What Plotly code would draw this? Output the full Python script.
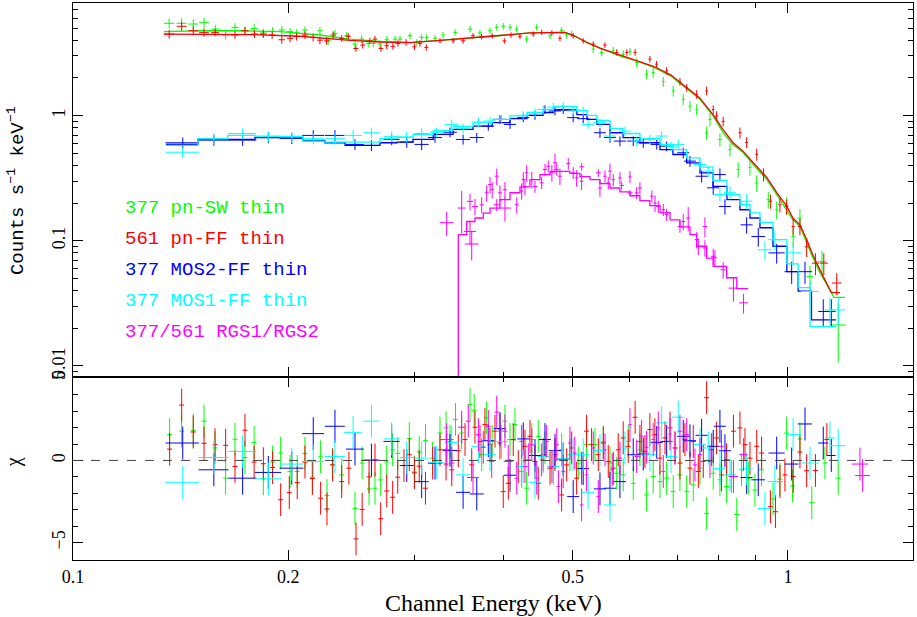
import plotly.graph_objects as go
from plotly.subplots import make_subplots

# ---------------------------------------------------------------
# 377 pn-SW thin  (green)
# ---------------------------------------------------------------
pnsw_e = [0.1363, 0.1419, 0.1473, 0.1525, 0.1583, 0.1635, 0.1685, 0.1740, 0.1792, 0.1846,
          0.1902, 0.1959, 0.2012, 0.2055, 0.2111, 0.2215, 0.2275, 0.2325, 0.2415, 0.2480,
          0.2534, 0.2588, 0.2630, 0.2688, 0.2747, 0.2822, 0.2867, 0.2961, 0.3026, 0.3074,
          0.3124, 0.3209, 0.3293, 0.3423, 0.3592, 0.3709, 0.3831, 0.3915, 0.3998, 0.4086,
          0.4176, 0.4311, 0.4453, 0.4648, 0.4825, 0.4904, 0.4984, 0.5342, 0.5489, 0.5698,
          0.5884, 0.6013, 0.6145, 0.6344, 0.6480, 0.6694, 0.6912, 0.7139, 0.7295, 0.7455,
          0.7697, 0.7780, 0.8034, 0.8298, 0.8519, 0.8850, 0.9045, 0.9388, 0.9646, 0.9960,
          1.0170, 1.0396, 1.0737, 1.1160, 1.1760]
pnsw_rate = [5.47, 5.47, 5.40, 5.57, 4.92, 4.41, 5.08, 4.77, 4.98, 4.58,
             4.72, 4.84, 4.69, 4.58, 4.84, 4.77, 3.96, 4.55, 4.35, 3.73,
             4.09, 3.78, 3.78, 3.73, 4.04, 4.09, 4.09, 4.35, 3.85, 4.22,
             4.22, 4.15, 4.41, 4.63, 4.92, 4.58, 4.77, 5.08, 5.18, 5.08,
             4.92, 4.09, 5.08, 4.35, 4.80, 4.41, 4.49, 3.40, 3.20, 3.30,
             3.10, 3.24, 2.66, 2.14, 2.21, 1.87, 1.58, 1.35, 1.19, 1.12,
             0.730, 0.934, 0.645, 0.536, 0.371, 0.385, 0.290, 0.213, 0.177, 0.191,
             0.108, 0.152, 0.0516, 0.0679, 0.0212]
pnsw_rel = [0.09, 0.09, 0.09, 0.09, 0.08, 0.08, 0.08, 0.08, 0.08, 0.08,
            0.08, 0.08, 0.07, 0.07, 0.07, 0.07, 0.07, 0.07, 0.07, 0.07,
            0.07, 0.07, 0.07, 0.07, 0.07, 0.06, 0.06, 0.06, 0.06, 0.06,
            0.06, 0.06, 0.06, 0.06, 0.06, 0.06, 0.06, 0.06, 0.06, 0.06,
            0.06, 0.06, 0.06, 0.06, 0.06, 0.06, 0.06, 0.07, 0.07, 0.07,
            0.07, 0.07, 0.08, 0.09, 0.09, 0.09, 0.10, 0.10, 0.10, 0.10,
            0.12, 0.12, 0.12, 0.12, 0.14, 0.14, 0.15, 0.15, 0.16, 0.16,
            0.18, 0.18, 0.22, 0.22, 0.50]
pnsw_de = [0.0023, 0.0023, 0.0024, 0.0024, 0.002, 0.002, 0.002, 0.002, 0.002, 0.002,
           0.002, 0.002, 0.002, 0.002, 0.002, 0.002, 0.002, 0.002, 0.002, 0.002,
           0.002, 0.002, 0.002, 0.002, 0.002, 0.002, 0.002, 0.002, 0.002, 0.002,
           0.002, 0.002, 0.002, 0.002, 0.0025, 0.0025, 0.0025, 0.0025, 0.0025, 0.0025,
           0.0025, 0.0025, 0.0025, 0.0025, 0.003, 0.003, 0.003, 0.003, 0.003, 0.003,
           0.003, 0.003, 0.003, 0.003, 0.003, 0.003, 0.003, 0.003, 0.003, 0.003,
           0.004, 0.004, 0.004, 0.004, 0.004, 0.004, 0.005, 0.005, 0.005, 0.006,
           0.006, 0.008, 0.012, 0.015, 0.030]
pnsw_model_e = [0.134, 0.1505, 0.1712, 0.1948, 0.2215, 0.2441, 0.2688, 0.2961, 0.3261, 0.3592,
                0.3956, 0.4357, 0.4723, 0.4877, 0.5034, 0.522, 0.5459, 0.5822, 0.6209, 0.6496,
                0.6864, 0.7219, 0.7533, 0.7856, 0.8112, 0.8375, 0.8652, 0.899, 0.9346, 0.9648,
                0.9966, 1.0163, 1.0396, 1.0628, 1.0835, 1.1087, 1.134, 1.160, 1.2019]
pnsw_model = [4.69, 4.77, 4.77, 4.69, 4.41, 4.09, 3.92, 3.84, 3.99, 4.15,
              4.37, 4.58, 4.66, 4.63, 4.33, 3.85, 3.46, 3.00, 2.68, 2.43,
              2.07, 1.63, 1.35, 1.00, 0.735, 0.589, 0.51, 0.393, 0.308, 0.234,
              0.177, 0.147, 0.130, 0.096, 0.0734, 0.0555, 0.0440, 0.0353, 0.0353]
pnsw_res_e = [0.1365, 0.1419, 0.1473, 0.1525, 0.158, 0.1635, 0.1685, 0.174, 0.1792, 0.1846,
              0.1902, 0.1952, 0.2012, 0.2059, 0.2111, 0.2162, 0.222, 0.2266, 0.2308, 0.2376,
              0.248, 0.2538, 0.2595, 0.2645, 0.2694, 0.2747, 0.28, 0.2846, 0.2954, 0.3003,
              0.305, 0.3112, 0.3185, 0.3261, 0.3325, 0.3368, 0.3428, 0.3497, 0.3592, 0.3641,
              0.373, 0.379, 0.3858, 0.3956, 0.402, 0.4086, 0.4152, 0.4242, 0.4311, 0.4383,
              0.4475, 0.4573, 0.4697, 0.4825, 0.4956, 0.5091, 0.5229, 0.5372, 0.5518, 0.5638,
              0.5762, 0.5884, 0.598, 0.6077, 0.6209, 0.6344, 0.648, 0.6623, 0.6767, 0.6912,
              0.7063, 0.7219, 0.7373, 0.7533, 0.7697, 0.7862, 0.8034, 0.8209, 0.8336, 0.8482,
              0.8613, 0.8803, 0.8994, 0.9188, 0.9532, 0.9747, 0.996, 1.0152, 1.0396, 1.08,
              1.1267, 1.176]
pnsw_res = [1.57, 1.78, 1.82, 2.39, 0.76, -1.08, 1.29, 0.18, 1.10, -1.12,
            -0.10, 0.45, -0.67, -0.67, 0.43, -1.02, 0.22, -2.14, -0.27, -0.88,
            -2.92, -0.16, -1.73, -1.69, -1.18, -0.10, 0.65, 0.43, 1.33, -0.71,
            0.51, 1.22, 0.14, 1.67, 1.98, 1.16, 2.49, 1.67, 3.41, 3.06,
            0.35, 2.59, 1.16, 1.78, 2.39, 1.27, 2.18, -0.67, -1.69, 1.27,
            1.47, 0.76, -0.47, 0.65, 0.35, -0.16, 0.96, 0.96, 1.12, -0.16,
            -0.78, -0.88, 1.16, -1.39, 0.65, -2.10, -0.98, -1.29, -1.08, -1.90,
            -0.88, -1.90, -1.49, -0.47, -3.22, -0.78, -1.18, -1.59, -0.98, -3.29,
            -0.57, -1.08, -1.80, -0.57, -2.35, -1.14, 1.67, -1.55, 1.31, -2.57,
            -0.16, -1.08]

# ---------------------------------------------------------------
# 561 pn-FF thin  (red)
# ---------------------------------------------------------------
pnff_e = [0.1363, 0.1419, 0.1473, 0.1525, 0.1580, 0.1685, 0.1740, 0.1794, 0.1846, 0.1899,
          0.1959, 0.2012, 0.2055, 0.2111, 0.2167, 0.2215, 0.2263, 0.2312, 0.2376, 0.2427,
          0.2487, 0.2543, 0.2602, 0.2645, 0.2696, 0.2747, 0.2802, 0.2848, 0.2924, 0.3003,
          0.3057, 0.3120, 0.3261, 0.3402, 0.3513, 0.3627, 0.3728, 0.3858, 0.4012, 0.4099,
          0.4219, 0.4403, 0.4525, 0.4676, 0.4799, 0.5008, 0.5172, 0.5342, 0.5548, 0.5762,
          0.5952, 0.6114, 0.6411, 0.6551, 0.6767, 0.7063, 0.7219, 0.7455, 0.7697, 0.7862,
          0.7948, 0.8119, 0.8569, 0.8755, 0.9045, 0.9246, 0.9453, 0.9747, 0.9960, 1.0170,
          1.0396, 1.0622, 1.0928, 1.1226, 1.1703]
pnff_rate = [4.49, 5.18, 4.77, 4.63, 4.63, 4.41, 4.77, 4.49, 4.49, 4.41,
             4.04, 4.15, 4.28, 4.41, 4.22, 4.01, 3.96, 4.41, 4.15, 4.31,
             3.44, 3.66, 3.96, 4.09, 3.44, 3.62, 3.58, 3.78, 3.85, 3.55,
             3.78, 3.51, 3.96, 3.96, 3.96, 4.35, 4.28, 4.35, 3.96, 4.41,
             4.31, 4.49, 4.63, 4.58, 4.15, 4.35, 3.96, 3.73, 3.66, 3.20,
             3.20, 3.20, 2.83, 2.58, 2.28, 1.87, 1.67, 1.48, 1.58, 1.12,
             0.995, 0.900, 0.730, 0.610, 0.490, 0.338, 0.207, 0.194, 0.188, 0.130,
             0.130, 0.0893, 0.0662, 0.0662, 0.0459]
pnff_rel = [0.08, 0.08, 0.08, 0.08, 0.07, 0.07, 0.07, 0.07, 0.07, 0.07,
            0.07, 0.07, 0.07, 0.07, 0.07, 0.07, 0.07, 0.07, 0.06, 0.06,
            0.06, 0.06, 0.06, 0.06, 0.06, 0.06, 0.06, 0.06, 0.06, 0.06,
            0.06, 0.06, 0.05, 0.05, 0.05, 0.05, 0.05, 0.05, 0.05, 0.05,
            0.05, 0.05, 0.05, 0.05, 0.05, 0.05, 0.05, 0.05, 0.05, 0.06,
            0.06, 0.06, 0.06, 0.06, 0.07, 0.07, 0.07, 0.08, 0.08, 0.08,
            0.09, 0.09, 0.10, 0.10, 0.11, 0.12, 0.13, 0.13, 0.14, 0.15,
            0.15, 0.17, 0.20, 0.20, 0.20]
pnff_de = [0.0023, 0.0023, 0.0024, 0.0024, 0.002, 0.002, 0.002, 0.002, 0.002, 0.002,
           0.002, 0.002, 0.002, 0.002, 0.002, 0.002, 0.002, 0.002, 0.002, 0.002,
           0.002, 0.002, 0.002, 0.002, 0.002, 0.002, 0.002, 0.002, 0.002, 0.002,
           0.002, 0.002, 0.002, 0.002, 0.0025, 0.0025, 0.0025, 0.0025, 0.0025, 0.0025,
           0.0025, 0.0025, 0.0025, 0.0025, 0.0025, 0.0025, 0.0025, 0.003, 0.003, 0.003,
           0.003, 0.003, 0.003, 0.003, 0.003, 0.003, 0.003, 0.003, 0.003, 0.003,
           0.004, 0.004, 0.004, 0.004, 0.004, 0.004, 0.005, 0.005, 0.005, 0.005,
           0.007, 0.007, 0.012, 0.015, 0.018]
pnff_model_e = [0.134, 0.1505, 0.1767, 0.2077, 0.2289, 0.2441, 0.2688, 0.2961, 0.3261, 0.3592,
                0.3956, 0.4357, 0.4723, 0.4877, 0.5034, 0.522, 0.5459, 0.5822, 0.6209, 0.6496,
                0.6864, 0.7219, 0.7533, 0.7856, 0.8112, 0.8375, 0.8652, 0.899, 0.9346, 0.9648,
                0.9966, 1.0163, 1.0396, 1.0628, 1.0835, 1.1087, 1.134, 1.1501, 1.1825]
pnff_model = [4.49, 4.49, 4.45, 4.31, 4.12, 3.99, 3.88, 3.84, 3.99, 4.15,
              4.37, 4.58, 4.66, 4.63, 4.33, 3.88, 3.46, 3.06, 2.73, 2.47,
              2.11, 1.66, 1.38, 1.02, 0.777, 0.61, 0.52, 0.407, 0.320, 0.243,
              0.188, 0.152, 0.134, 0.102, 0.0773, 0.0585, 0.0460, 0.0385, 0.0385]
pnff_res_e = [0.1365, 0.1419, 0.1473, 0.1525, 0.158, 0.1635, 0.1685, 0.174, 0.1792, 0.1846,
              0.1902, 0.1952, 0.2007, 0.2059, 0.2111, 0.2162, 0.222, 0.2266, 0.2308, 0.2376,
              0.2432, 0.2488, 0.2538, 0.2595, 0.2645, 0.2694, 0.2747, 0.28, 0.2846, 0.2904,
              0.2954, 0.3003, 0.305, 0.3112, 0.3185, 0.3261, 0.3325, 0.3387, 0.3459, 0.3535,
              0.3612, 0.365, 0.3709, 0.3769, 0.3831, 0.3893, 0.3956, 0.3998, 0.4063, 0.4129,
              0.4196, 0.4288, 0.4357, 0.4428, 0.4475, 0.4548, 0.4648, 0.4723, 0.4825, 0.4904,
              0.4984, 0.5064, 0.5146, 0.5229, 0.5314, 0.543, 0.5518, 0.5607, 0.5698, 0.579,
              0.5884, 0.598, 0.6114, 0.6209, 0.631, 0.6411, 0.6515, 0.6623, 0.6731, 0.6841,
              0.6952, 0.7063, 0.7177, 0.7295, 0.7373, 0.7494, 0.7614, 0.7697, 0.7823, 0.7948,
              0.8074, 0.8209, 0.8391, 0.8569, 0.8709, 0.885, 0.9045, 0.9188, 0.9453, 0.9607,
              0.9747, 0.9905, 1.0172, 1.0396, 1.0622, 1.0928, 1.1338]
pnff_res = [0.69, 3.37, 1.73, 1.04, 0.96, 0.92, -0.37, 1.84, -0.10, -0.20,
            -0.43, -2.39, -1.96, -1.35, -0.10, -1.10, -2.30, -2.96, -0.27, -1.29,
            -0.47, -4.78, -2.98, -1.00, 0.02, -3.55, -1.86, -2.24, -1.02, -0.31,
            0.35, -0.76, -0.35, -1.69, -0.16, 0.65, -0.22, -0.57, 0.59, 1.27,
            -0.27, 2.02, 1.16, 2.18, 0.96, 1.78, 1.06, -1.90, -1.39, 1.27,
            -0.37, 0.86, 1.47, -0.06, -1.39, 0.35, -0.47, 0.35, -2.10, -0.27,
            0.76, -1.08, -0.47, 1.78, 0.96, 0.35, 1.06, -0.06, -0.47, 0.65,
            1.37, 0.86, 2.63, 1.16, 0.55, 1.88, 1.57, 0.14, 1.37, 1.98,
            0.76, -0.16, 1.27, -0.47, 1.16, -0.67, -0.06, 3.82, 0.65, 1.37,
            -0.88, 0.04, 1.78, 1.98, 0.96, 0.14, 0.86, 0.45, -2.82, -3.12,
            -1.29, -0.88, -0.98, 0.51, -0.63, -0.61, 1.27]

# ---------------------------------------------------------------
# 377 MOS2-FF thin  (blue)
# ---------------------------------------------------------------
mos2_e = [0.1424, 0.1574, 0.1727, 0.1876, 0.2023, 0.2168, 0.2325, 0.2480, 0.2615, 0.2791,
          0.2930, 0.3074, 0.3209, 0.3368, 0.3513, 0.3671, 0.3810, 0.3956, 0.4086, 0.4264,
          0.4428, 0.4573, 0.4723, 0.4850, 0.5008, 0.5172, 0.5459, 0.5638, 0.5822, 0.6077,
          0.6276, 0.6554, 0.6767, 0.7139, 0.7295, 0.7574, 0.7862, 0.8034, 0.8165, 0.8756,
          0.9090, 0.9646, 1.0122, 1.0566, 1.1206, 1.1501]
mos2_rate = [0.607, 0.637, 0.637, 0.668, 0.658, 0.695, 0.695, 0.589, 0.578, 0.645,
             0.615, 0.589, 0.668, 0.737, 0.645, 0.668, 0.825, 0.934, 0.851, 0.964,
             1.006, 1.12, 1.09, 1.12, 0.964, 0.946, 0.730, 0.668, 0.626, 0.626,
             0.607, 0.589, 0.570, 0.505, 0.433, 0.328, 0.265, 0.338, 0.188, 0.134,
             0.108, 0.080, 0.0566, 0.0566, 0.0272, 0.0272]
mos2_rel = [0.10, 0.10, 0.10, 0.10, 0.10, 0.10, 0.10, 0.10, 0.10, 0.10,
            0.10, 0.10, 0.09, 0.09, 0.09, 0.09, 0.08, 0.08, 0.08, 0.08,
            0.08, 0.08, 0.08, 0.08, 0.08, 0.08, 0.09, 0.09, 0.09, 0.09,
            0.09, 0.09, 0.09, 0.10, 0.10, 0.11, 0.12, 0.12, 0.14, 0.15,
            0.17, 0.18, 0.20, 0.20, 0.25, 0.25]
mos2_de = [0.0077, 0.0076, 0.0078, 0.0079, 0.0078, 0.0077, 0.0075, 0.0072, 0.0068, 0.0072,
           0.0066, 0.0070, 0.0073, 0.0076, 0.0079, 0.0083, 0.0074, 0.0077, 0.0079, 0.0083,
           0.0086, 0.0089, 0.0092, 0.0094, 0.0097, 0.0100, 0.0106, 0.0109, 0.0113, 0.0118,
           0.0122, 0.0127, 0.0131, 0.0138, 0.0141, 0.0147, 0.0152, 0.0156, 0.0158, 0.0170,
           0.020, 0.025, 0.023, 0.024, 0.018, 0.016]
mos2_res = [1.06, -0.57, -1.08, -0.73, -0.47, 1.63, 2.08, 0.69, 0.02, 1.16,
            -0.31, -1.29, -0.16, 0.61, -1.94, -2.04, 1.20, 1.94, -0.90, 1.31,
            0.30, 1.27, 0.60, 0.08, -2.20, -0.50, -1.73, -1.69, -1.29, 0.35,
            0.39, 1.10, 1.16, 1.47, 1.20, 1.53, 0.86, 2.08, 0.59, -1.04,
            -1.18, 0.45, -0.22, 2.22, 1.06, 0.30]
mos2_model_e = [0.1349, 0.1495, 0.1646, 0.1797, 0.1948, 0.2097, 0.2251, 0.2402, 0.2688, 0.2840,
                0.2989, 0.3191, 0.3402, 0.3627, 0.3858, 0.4086, 0.4315, 0.4544, 0.4697, 0.5068,
                0.5236, 0.5406, 0.5638, 0.5880, 0.6209, 0.6623, 0.6905, 0.7218, 0.7533, 0.7856,
                0.8218, 0.8569, 0.8850, 0.9139, 0.9530, 0.9966, 1.0336, 1.0790, 1.1675]
mos2_model = [0.589, 0.645, 0.645, 0.668, 0.668, 0.633, 0.607, 0.578, 0.607, 0.614,
              0.645, 0.708, 0.777, 0.825, 0.879, 0.946, 1.006, 1.06, 1.11, 1.02,
              0.934, 0.851, 0.730, 0.668, 0.607, 0.536, 0.489, 0.420, 0.349, 0.272,
              0.213, 0.177, 0.152, 0.127, 0.0904, 0.0566, 0.0396, 0.0233, 0.0233]

# ---------------------------------------------------------------
# 377 MOS1-FF thin  (cyan)
# ---------------------------------------------------------------
mos1_e = [0.1424, 0.1574, 0.1727, 0.1876, 0.2023, 0.2168, 0.2325, 0.2465, 0.2615, 0.2791,
          0.2930, 0.3074, 0.3227, 0.3386, 0.3513, 0.3690, 0.3831, 0.3976, 0.4264, 0.4428,
          0.4548, 0.4697, 0.4850, 0.5008, 0.5172, 0.5254, 0.5459, 0.5638, 0.5917, 0.6145,
          0.6411, 0.6659, 0.6864, 0.7025, 0.7533, 0.7738, 0.8034, 0.8298, 0.8756, 0.9288,
          0.9591, 1.0170, 1.0737, 1.1450, 1.1760]
mos1_rate = [0.510, 0.654, 0.720, 0.679, 0.674, 0.654, 0.654, 0.695, 0.730, 0.679,
             0.674, 0.720, 0.737, 0.851, 0.790, 0.890, 0.906, 0.934, 1.006, 1.056,
             1.12, 1.17, 1.19, 1.09, 1.09, 0.851, 0.879, 0.687, 0.752, 0.626,
             0.645, 0.687, 0.570, 0.589, 0.407, 0.360, 0.234, 0.244, 0.207, 0.0847,
             0.102, 0.080, 0.0393, 0.028, 0.028]
mos1_rel = [0.10, 0.10, 0.10, 0.10, 0.10, 0.10, 0.10, 0.10, 0.10, 0.10,
            0.10, 0.10, 0.09, 0.09, 0.09, 0.09, 0.08, 0.08, 0.08, 0.08,
            0.08, 0.08, 0.08, 0.08, 0.08, 0.08, 0.08, 0.09, 0.09, 0.09,
            0.09, 0.09, 0.09, 0.09, 0.10, 0.11, 0.12, 0.12, 0.14, 0.18,
            0.18, 0.20, 0.22, 0.25, 0.25]
mos1_de = [0.0077, 0.0076, 0.0078, 0.0079, 0.0078, 0.0077, 0.0075, 0.0072, 0.0068, 0.0072,
           0.0066, 0.0070, 0.0073, 0.0076, 0.0079, 0.0083, 0.0074, 0.0077, 0.0083, 0.0086,
           0.0088, 0.0091, 0.0094, 0.0097, 0.0100, 0.0102, 0.0106, 0.0109, 0.0115, 0.0119,
           0.0124, 0.0129, 0.0133, 0.0136, 0.0146, 0.0150, 0.0156, 0.0160, 0.0170, 0.021,
           0.022, 0.026, 0.031, 0.019, 0.027]
mos1_res = [-1.33, 0.18, 0.55, -1.12, -0.22, -0.06, 0.24, 1.71, 2.39, 1.31,
            0.18, 0.14, -0.12, 1.10, -0.88, 0.86, 0.35, 1.16, -0.37, -1.33,
            0.24, -0.37, 0.10, 0.35, 0.35, -1.94, 0.61, -2.71, 0.76, 0.31,
            0.35, 2.29, 0.24, 2.63, 0.96, 0.76, -0.50, -0.88, -0.51, -2.92,
            -1.29, 1.57, -0.16, 1.37, 0.90]
mos1_model_e = [0.1349, 0.1495, 0.1646, 0.1797, 0.1948, 0.2097, 0.2251, 0.2402, 0.2688, 0.2840,
                0.2989, 0.3191, 0.3402, 0.3627, 0.3858, 0.4086, 0.4315, 0.4544, 0.4697, 0.5068,
                0.5236, 0.5406, 0.5638, 0.5880, 0.6209, 0.6623, 0.6905, 0.7218, 0.7533, 0.7856,
                0.8218, 0.8569, 0.8850, 0.9139, 0.9530, 0.9966, 1.0336, 1.0737, 1.1675]
mos1_model = [0.578, 0.654, 0.695, 0.687, 0.682, 0.626, 0.614, 0.614, 0.654, 0.674,
              0.708, 0.762, 0.820, 0.875, 0.934, 0.996, 1.06, 1.12, 1.18, 1.10,
              1.006, 0.917, 0.790, 0.720, 0.654, 0.589, 0.536, 0.460, 0.388, 0.303,
              0.234, 0.194, 0.167, 0.140, 0.102, 0.0654, 0.0422, 0.0206, 0.0206]

# ---------------------------------------------------------------
# 377/561 RGS1/RGS2  (magenta)
# ---------------------------------------------------------------
rgs_e = [0.3332, 0.3497, 0.3592, 0.3592, 0.3612, 0.3650, 0.3730, 0.3790, 0.3831, 0.3858,
         0.3915, 0.3915, 0.3956, 0.4020, 0.4020, 0.4176, 0.4242, 0.4264, 0.4288, 0.4311,
         0.4383, 0.4428, 0.4525, 0.4573, 0.4622, 0.4676, 0.4723, 0.4750, 0.4799, 0.4929,
         0.5008, 0.5064, 0.5146, 0.5146, 0.5430, 0.5459, 0.5548, 0.5607, 0.5638, 0.5698,
         0.5822, 0.5854, 0.6013, 0.6013, 0.6145, 0.6209, 0.6452, 0.6519, 0.6587, 0.6694,
         0.6767, 0.7063, 0.7139, 0.7254, 0.7455, 0.7494, 0.7655, 0.7655, 0.7862, 0.7904,
         0.8119, 0.8391, 0.8669]
rgs_rate = [0.1395, 0.1826, 0.2064, 0.1187, 0.0942, 0.188, 0.194, 0.2415, 0.281, 0.256,
            0.328, 0.194, 0.2415, 0.256, 0.1826, 0.194, 0.250, 0.308, 0.2715, 0.349,
            0.308, 0.2715, 0.290, 0.371, 0.394, 0.349, 0.420, 0.371, 0.328, 0.414,
            0.349, 0.318, 0.390, 0.299, 0.349, 0.264, 0.328, 0.290, 0.360, 0.308,
            0.318, 0.277, 0.324, 0.2415, 0.2415, 0.264, 0.227, 0.200, 0.188, 0.177,
            0.162, 0.130, 0.1425, 0.152, 0.102, 0.0904, 0.0878, 0.130, 0.0751, 0.0730,
            0.0585, 0.0418, 0.0319]
rgs_rel = [0.22, 0.37, 0.15, 0.22, 0.26, 0.15, 0.15, 0.15, 0.15, 0.15,
           0.15, 0.11, 0.15, 0.15, 0.22, 0.15, 0.15, 0.15, 0.15, 0.15,
           0.15, 0.11, 0.11, 0.11, 0.11, 0.15, 0.18, 0.11, 0.15, 0.11,
           0.11, 0.15, 0.07, 0.15, 0.07, 0.15, 0.11, 0.11, 0.15, 0.11,
           0.11, 0.07, 0.11, 0.05, 0.11, 0.11, 0.11, 0.15, 0.11, 0.11,
           0.11, 0.11, 0.15, 0.22, 0.15, 0.15, 0.15, 0.18, 0.15, 0.15,
           0.15, 0.22, 0.18]
rgs_de = [0.0075, 0.0045, 0.0035, 0.007, 0.008, 0.0035, 0.0025, 0.0025, 0.0025, 0.0025,
          0.0025, 0.004, 0.0025, 0.0025, 0.008, 0.0025, 0.0025, 0.0025, 0.0025, 0.0025,
          0.0025, 0.003, 0.003, 0.003, 0.003, 0.003, 0.003, 0.003, 0.003, 0.003,
          0.003, 0.003, 0.004, 0.003, 0.004, 0.003, 0.003, 0.003, 0.003, 0.003,
          0.003, 0.004, 0.003, 0.005, 0.004, 0.004, 0.004, 0.004, 0.004, 0.004,
          0.004, 0.005, 0.004, 0.005, 0.005, 0.005, 0.006, 0.005, 0.006, 0.006,
          0.007, 0.013, 0.012]
rgs_model_e = [0.3459, 0.3459, 0.3554, 0.3650, 0.3749, 0.3831, 0.3956, 0.4086, 0.4219, 0.4357,
               0.4500, 0.4648, 0.4799, 0.4956, 0.5118, 0.5286, 0.5459, 0.5638, 0.5822, 0.6013,
               0.6209, 0.6411, 0.6623, 0.6841, 0.7063, 0.7295, 0.7455, 0.7697, 0.7862, 0.8209,
               0.8482, 0.8798]
rgs_model = [0.003, 0.112, 0.1425, 0.152, 0.166, 0.1826, 0.213, 0.242, 0.270, 0.308,
             0.338, 0.358, 0.358, 0.345, 0.326, 0.308, 0.286, 0.264, 0.246, 0.229,
             0.209, 0.191, 0.168, 0.147, 0.129, 0.112, 0.0904, 0.0727, 0.0625, 0.0506,
             0.0414, 0.0414]
rgs_res_e = [0.3332, 0.3332, 0.3387, 0.3497, 0.3572, 0.3627, 0.3690, 0.3749, 0.3810, 0.3852,
             0.3915, 0.3956, 0.4020, 0.4063, 0.4176, 0.4242, 0.4288, 0.4334, 0.4383, 0.4453,
             0.4525, 0.4598, 0.4676, 0.4750, 0.4775, 0.4850, 0.4956, 0.5034, 0.5146, 0.5229,
             0.5342, 0.5430, 0.5548, 0.5678, 0.5822, 0.6013, 0.6145, 0.6243, 0.6344, 0.6480,
             0.6587, 0.6694, 0.6841, 0.6952, 0.7063, 0.7219, 0.7413, 0.7533, 0.7780, 0.8074,
             0.8391, 0.8669, 1.2612, 1.2722]
rgs_res = [1.27, 0.65, -0.16, 2.02, 2.39, -1.04, 1.57, 0.80, 2.08, -0.06,
           2.94, 1.88, 1.78, -0.06, -1.08, 1.16, -0.37, 0.04, 0.96, -1.08,
           0.04, 1.16, -0.37, 0.96, -1.59, -0.67, 1.06, 0.45, -2.71, -0.88,
           0.76, -2.20, 0.65, -0.57, 0.14, 2.18, 0.24, 1.47, 0.80, 1.27,
           1.98, -0.67, 1.61, 0.76, 1.78, 1.57, -0.27, 0.35, -0.06, 0.86,
           -0.98, 0.35, -0.22, -0.92]
rgs_res_de = [0.0075, 0.006, 0.003, 0.004, 0.003, 0.007, 0.003, 0.003, 0.003, 0.003,
              0.003, 0.003, 0.003, 0.006, 0.003, 0.003, 0.003, 0.003, 0.003, 0.003,
              0.003, 0.003, 0.003, 0.003, 0.003, 0.003, 0.003, 0.003, 0.003, 0.003,
              0.003, 0.003, 0.003, 0.003, 0.004, 0.003, 0.004, 0.004, 0.004, 0.004,
              0.004, 0.004, 0.004, 0.004, 0.005, 0.005, 0.005, 0.005, 0.006, 0.006,
              0.013, 0.012, 0.033, 0.030]

legend_labels = ["377 pn-SW thin", "561 pn-FF thin", "377 MOS2-FF thin",
                 "377 MOS1-FF thin", "377/561 RGS1/RGS2"]
colors = ["#00ff00", "#ff0000", "#0000ff", "#00ffff", "#ff00ff"]
HIDDEN = "rgba(0,0,0,0)"


def add_points(fig, e, y, de, dy, color):
    fig.add_trace(go.Scatter(
        x=e, y=y, mode="markers",
        marker=dict(size=2, color=HIDDEN),
        error_x=dict(type="data", array=de, color=color, thickness=1, width=0),
        error_y=dict(type="data", array=dy, color=color, thickness=1, width=0),
        showlegend=False, hoverinfo="skip",
    ), row=1, col=1)


def add_model(fig, e, y, color, shape):
    fig.add_trace(go.Scatter(
        x=e, y=y, mode="lines", line=dict(color=color, width=1.3, shape=shape),
        showlegend=False, hoverinfo="skip",
    ), row=1, col=1)


def add_resid(fig, e, r, ex, color):
    ex = dict(ex, color=color, thickness=1, width=0)
    fig.add_trace(go.Scatter(
        x=e, y=r, mode="markers",
        marker=dict(size=2, color=HIDDEN),
        error_x=ex,
        error_y=dict(type="constant", value=1.0, color=color, thickness=1, width=0),
        showlegend=False, hoverinfo="skip",
    ), row=2, col=1)


fig = make_subplots(rows=2, cols=1, shared_xaxes=True, vertical_spacing=0)

datasets = [
    (pnsw_e, pnsw_rate, pnsw_rel, pnsw_de, pnsw_model_e, pnsw_model, "linear"),
    (pnff_e, pnff_rate, pnff_rel, pnff_de, pnff_model_e, pnff_model, "linear"),
    (mos2_e, mos2_rate, mos2_rel, mos2_de, mos2_model_e, mos2_model, "hv"),
    (mos1_e, mos1_rate, mos1_rel, mos1_de, mos1_model_e, mos1_model, "hv"),
    (rgs_e, rgs_rate, rgs_rel, rgs_de, rgs_model_e, rgs_model, "hv"),
]
for (e, y, rel, de, me, m, shape), c in zip(datasets, colors):
    dy = [v * f for v, f in zip(y, rel)]
    add_points(fig, e, y, de, dy, c)
    add_model(fig, me, m, c, shape)

# residuals (chi)
add_resid(fig, pnsw_res_e, pnsw_res, dict(type="percent", value=0.8), colors[0])
add_resid(fig, pnff_res_e, pnff_res, dict(type="percent", value=0.8), colors[1])
add_resid(fig, mos2_e, mos2_res, dict(type="data", array=mos2_de), colors[2])
add_resid(fig, mos1_e, mos1_res, dict(type="data", array=mos1_de), colors[3])
add_resid(fig, rgs_res_e, rgs_res, dict(type="data", array=rgs_res_de), colors[4])

fig.add_hline(y=0, line=dict(color="#444444", width=1, dash="dash"), row=2, col=1)

tick_font = dict(family="Liberation Serif", size=18, color="black")
frame = dict(showline=True, linecolor="black", linewidth=1.2, mirror="allticks",
             ticks="inside", ticklen=10, tickwidth=1, tickcolor="black",
             showgrid=False, zeroline=False, automargin=False, tickfont=tick_font)

x_minor = dict(tickmode="array", tickvals=[0.3, 0.4, 0.6, 0.7, 0.8, 0.9],
               ticks="inside", ticklen=5, tickcolor="black", showgrid=False)
fig.update_xaxes(type="log", range=[-1, 0.175], tickmode="array",
                 tickvals=[0.1, 0.2, 0.5, 1], ticktext=["0.1", "0.2", "0.5", "1"],
                 minor=x_minor, **frame)
fig.update_xaxes(showticklabels=False, row=1, col=1)

y_minor_vals = [0.009, 0.02, 0.03, 0.04, 0.05, 0.06, 0.07, 0.08, 0.09,
                0.2, 0.3, 0.4, 0.5, 0.6, 0.7, 0.8, 0.9, 2, 3, 4, 5, 6, 7]
fig.update_yaxes(type="log", range=[-2.0915, 0.9004], tickmode="array",
                 tickvals=[0.01, 0.1, 1], ticktext=["0.01", "0.1", "1"], tickangle=-90,
                 minor=dict(tickmode="array", tickvals=y_minor_vals, ticks="inside",
                            ticklen=5, tickcolor="black", showgrid=False),
                 domain=[0.328, 1.0], row=1, col=1, **frame)
fig.update_yaxes(range=[-6.06, 5.06], tickmode="array", tickvals=[-5, 0, 5],
                 ticktext=["\u22125", "0", "5"], tickangle=-90,
                 minor=dict(tickmode="linear", tick0=0, dtick=1, ticks="inside",
                            ticklen=5, tickcolor="black", showgrid=False),
                 domain=[0.0, 0.328], row=2, col=1, **frame)

label_font = dict(family="Liberation Mono", size=19)
annotations = []
for i, (txt, c) in enumerate(zip(legend_labels, colors)):
    annotations.append(dict(text=txt, x=0.06, y=0.632 - i * 0.0557,
                            xref="paper", yref="paper", xanchor="left", yanchor="middle",
                            showarrow=False, font=dict(color=c, **label_font)))
annotations.append(dict(text="Counts s<sup>\u22121</sup> keV<sup>\u22121</sup>",
                        x=-0.068, y=0.664, xref="paper", yref="paper", textangle=-90,
                        xanchor="center", yanchor="middle",
                        showarrow=False, font=dict(color="black", **label_font)))
annotations.append(dict(text="\u03c7", x=-0.070, y=0.176, xref="paper", yref="paper",
                        textangle=-90, xanchor="center", yanchor="middle", showarrow=False,
                        font=dict(family="Liberation Serif", size=20, color="black")))
annotations.append(dict(text="Channel Energy (keV)", x=0.5, y=-0.077,
                        xref="paper", yref="paper", xanchor="center", yanchor="middle",
                        showarrow=False,
                        font=dict(family="Liberation Serif", size=24, color="black")))

fig.update_layout(
    width=917, height=617,
    margin=dict(l=73, r=4, t=3, b=57),
    paper_bgcolor="white", plot_bgcolor="white",
    showlegend=False,
    annotations=annotations,
)

# drop the default page margin so the figure sits at the window's corner
fig.write_html("out.html", config={"displayModeBar": False},
               post_script="document.body.style.margin='0';")
